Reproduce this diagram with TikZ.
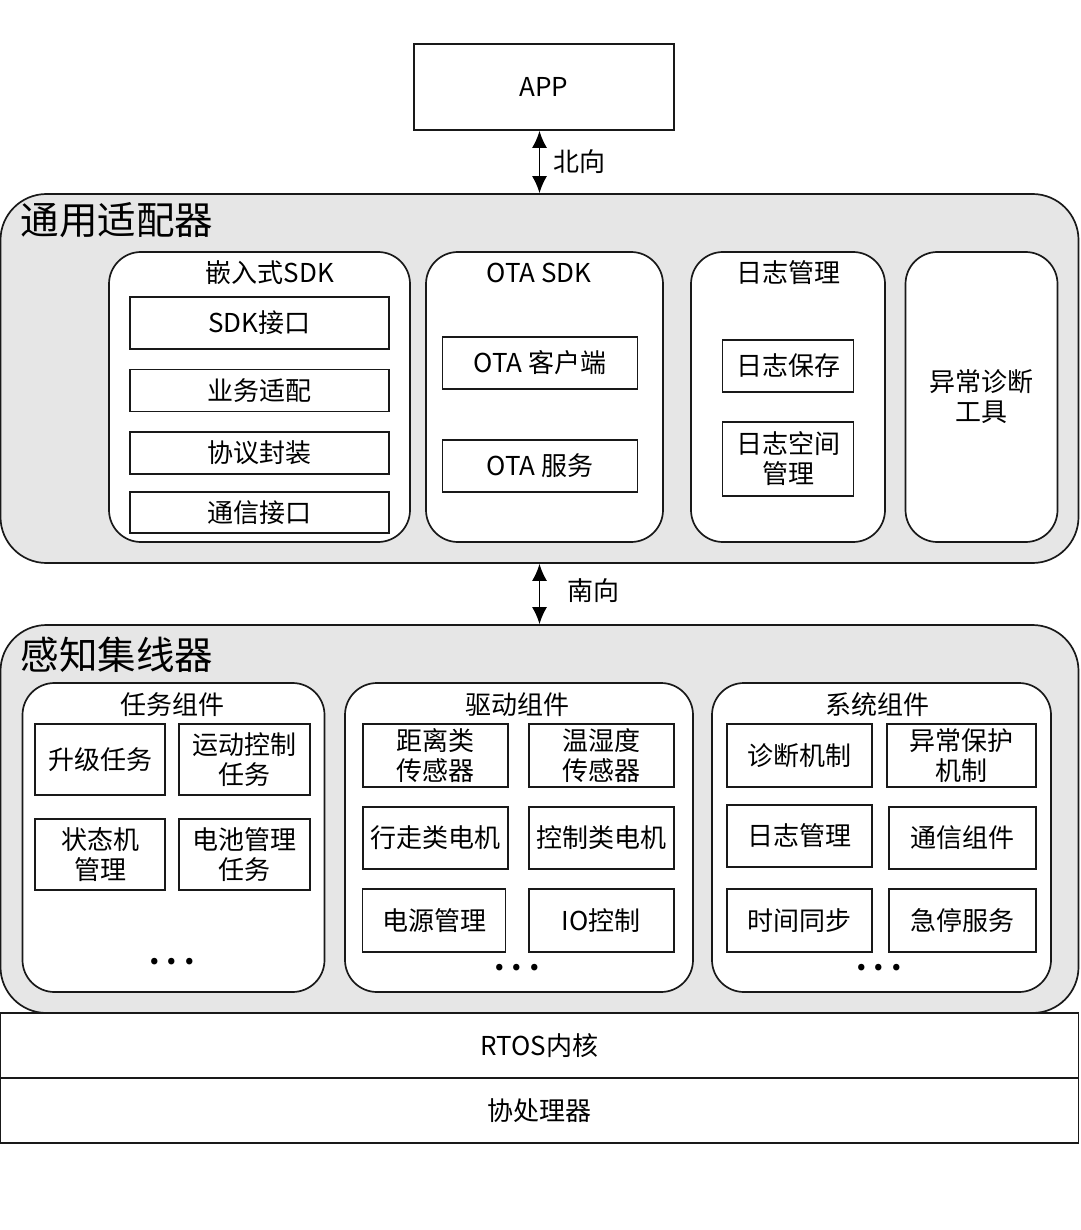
\documentclass[tikz,border=0pt]{standalone}
\usepackage{fontspec}
\setmainfont{Noto Sans CJK SC}
\usepackage{tikz}
\usetikzlibrary{arrows.meta}
\definecolor{shell}{RGB}{230,230,230}
\definecolor{ink}{RGB}{25,25,25}
\newcommand\cellfont{\fontsize{26}{30}\selectfont}
\newcommand\layerfont{\fontsize{38.5}{42}\selectfont}
\newcommand\dotfont{\fontsize{30}{30}\selectfont\bfseries}

\begin{document}
\begin{tikzpicture}[x=1pt, y=-1pt, >={Latex[length=17pt,width=15pt]},
  line width=1.7pt,
  cell/.style={draw=ink, fill=white, inner sep=0pt, align=center, font=\cellfont},
  group/.style={draw=ink, fill=white, rounded corners=32pt, inner sep=0pt},
  layer/.style={draw=ink, fill=shell, rounded corners=46pt, inner sep=0pt},
  caption/.style={inner sep=0pt, font=\cellfont},
  dots/.style={inner sep=0pt, font=\dotfont}]
\useasboundingbox (0,0) rectangle (1080,1230);

% ---- APP ----
\node[cell, minimum width=260, minimum height=86] (app) at (544,87) {APP};

% ---- 1. 通用适配器 ----
\node[layer, minimum width=1078, minimum height=369] (adapt) at (539.5,378.5) {};
\node[anchor=west, inner sep=0pt, font=\layerfont] (adaptT) at (20,220) {通用适配器};

\node[group, minimum width=301, minimum height=290] (sdk) at (259.5,397) {};
\node[caption] (sdkT) at (270,273) {嵌入式SDK};
\node[cell, minimum width=259, minimum height=52] (sdkIf) at (259.5,323) {SDK接口};
\node[cell, minimum width=259, minimum height=42] (bizAd) at (259.5,390.5) {业务适配};
\node[cell, minimum width=259, minimum height=42] (proto) at (259.5,453) {协议封装};
\node[cell, minimum width=259, minimum height=41] (comIf) at (259.5,512.5) {通信接口};

\node[group, minimum width=237, minimum height=290] (ota) at (544.5,397) {};
\node[caption] (otaT) at (539,273) {OTA SDK};
\node[cell, minimum width=195, minimum height=52] (otaCli) at (540,363) {OTA 客户端};
\node[cell, minimum width=195, minimum height=52] (otaSrv) at (540,466) {OTA 服务};

\node[group, minimum width=194, minimum height=290] (log) at (788,397) {};
\node[caption] (logT) at (788,273) {日志管理};
\node[cell, minimum width=131, minimum height=52] (logSave) at (788,366) {日志保存};
\node[cell, minimum width=131, minimum height=74] (logSpace) at (788,459) {日志空间\\管理};

\node[group, align=center, font=\cellfont, minimum width=152, minimum height=290] (diag) at (981.5,397) {异常诊断\\工具};

% ---- 2. 感知集线器 ----
\node[layer, minimum width=1078, minimum height=388] (hub) at (539.5,819) {};
\node[anchor=west, inner sep=0pt, font=\layerfont] (hubT) at (20,655) {感知集线器};

\node[group, minimum width=302, minimum height=309] (task) at (173.5,837.5) {};
\node[caption] (taskT) at (172,705) {任务组件};
\node[cell, minimum width=130, minimum height=71] (upg) at (100,759.5) {升级任务};
\node[cell, minimum width=131, minimum height=71] (motion) at (244.5,759.5) {运动控制\\任务};
\node[cell, minimum width=130, minimum height=71] (fsm) at (100,854.5) {状态机\\管理};
\node[cell, minimum width=131, minimum height=71] (batt) at (244.5,854.5) {电池管理\\任务};
\node[dots] (taskD) at (172,962) {.\hspace{7pt}.\hspace{7pt}.};

\node[group, minimum width=348, minimum height=309] (drv) at (519,837.5) {};
\node[caption] (drvT) at (517,705) {驱动组件};
\node[cell, minimum width=145, minimum height=63] (dist) at (435.5,755.5) {距离类\\传感器};
\node[cell, minimum width=145, minimum height=63] (hum) at (601.3,755.5) {温湿度\\传感器};
\node[cell, minimum width=145, minimum height=62] (walk) at (435.5,838) {行走类电机};
\node[cell, minimum width=145, minimum height=62] (ctrl) at (601.3,838) {控制类电机};
\node[cell, minimum width=143, minimum height=63] (power) at (434,920.5) {电源管理};
\node[cell, minimum width=145, minimum height=63] (io) at (601.3,920.5) {IO控制};
\node[dots] (drvD) at (517,968) {.\hspace{7pt}.\hspace{7pt}.};

\node[group, minimum width=339, minimum height=309] (sys) at (881.5,837.5) {};
\node[caption] (sysT) at (877.5,705) {系统组件};
\node[cell, minimum width=145, minimum height=63] (diagM) at (799.5,755.5) {诊断机制};
\node[cell, minimum width=149, minimum height=63] (prot) at (961.5,755.5) {异常保护\\机制};
\node[cell, minimum width=145, minimum height=62] (logM) at (799.5,836) {日志管理};
\node[cell, minimum width=147, minimum height=62] (comm) at (962.5,838) {通信组件};
\node[cell, minimum width=145, minimum height=63] (sync) at (799.5,920.5) {时间同步};
\node[cell, minimum width=147, minimum height=63] (estop) at (962.5,920.5) {急停服务};
\node[dots] (sysD) at (879,968) {.\hspace{7pt}.\hspace{7pt}.};

% ---- 3. RTOS / 协处理器 ----
\node[cell, minimum width=1078, minimum height=65] (rtos) at (539.5,1045.5) {RTOS内核};
\node[cell, minimum width=1078, minimum height=65] (cop) at (539.5,1110.5) {协处理器};

% ---- arrows between ----
\draw[<->] (app.south -| adapt.north) -- (adapt.north)
  node[midway, right=13pt, inner sep=0pt, font=\cellfont] {北向};
\draw[<->] (adapt.south) -- (hub.north)
  node[midway, right=27pt, yshift=3pt, inner sep=0pt, font=\cellfont] {南向};
\end{tikzpicture}
\end{document}
